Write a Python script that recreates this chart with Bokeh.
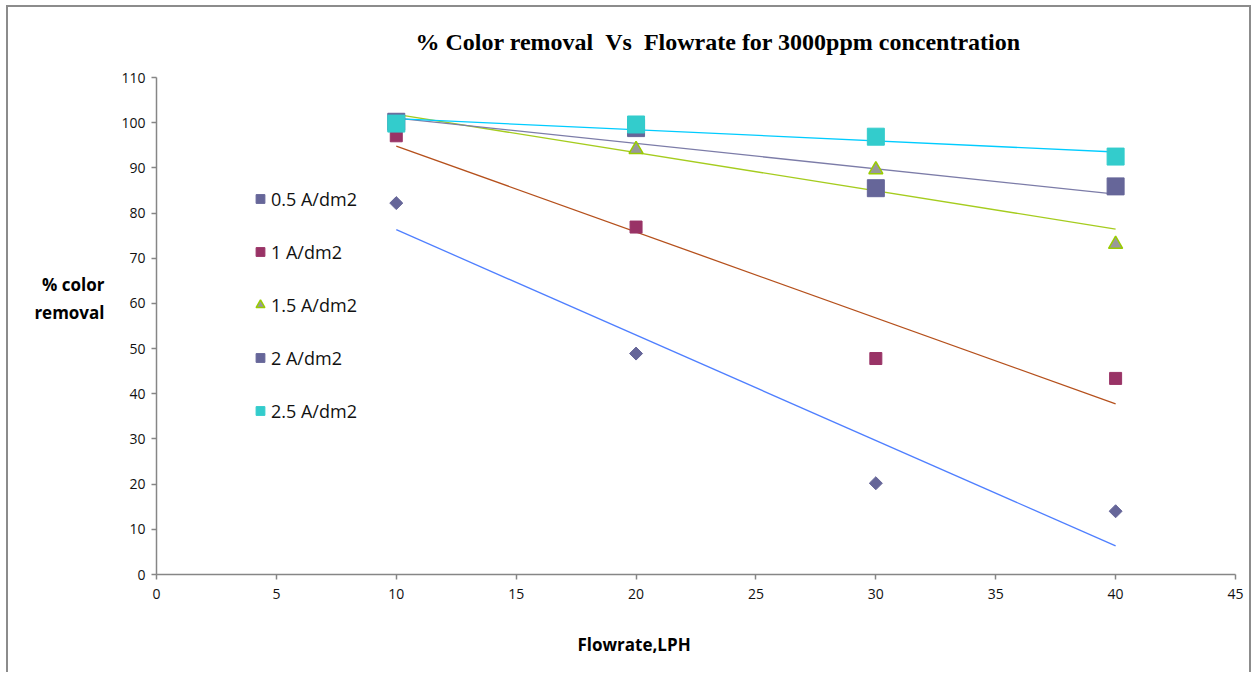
import numpy as np
from bokeh.plotting import figure
from bokeh.models import Range1d, FixedTicker, Legend, LegendItem, Title
from bokeh.embed import file_html
from bokeh.resources import INLINE

# ---- data ----
flowrate = [10, 20, 30, 40]
s05 = [82.2, 48.9, 20.2, 14.0]
s10 = [97.1, 76.9, 47.8, 43.4]
s15 = [99.8, 94.1, 89.6, 73.1]
s20 = [100.2, 98.8, 85.5, 85.9]
s25 = [99.8, 99.6, 96.9, 92.5]
series_names = ["0.5 A/dm2", "1 A/dm2", "1.5 A/dm2", "2 A/dm2", "2.5 A/dm2"]
x_ticks = [0, 5, 10, 15, 20, 25, 30, 35, 40, 45]
y_ticks = [0, 10, 20, 30, 40, 50, 60, 70, 80, 90, 100, 110]
title_text = "% Color removal \u00a0Vs \u00a0Flowrate for 3000ppm concentration"
x_label = "\u00a0\nFlowrate,LPH"
y_label = "% color\nremoval\n\u00a0\n\u00a0"

# page coordinates of the chart box and the plot frame
BL, BT = 8, 7          # inner edge of the grey border (left, top)
BR = 1253              # inner edge of right border
PAGE_H = 674
FL, FR, FT, FB = 156, 1235, 77, 574

W = BR - BL
H = PAGE_H - BT

p = figure(width=W, height=H, output_backend="svg", toolbar_location=None,
           x_range=Range1d(0, 45), y_range=Range1d(0, 110),
           min_border_left=FL - BL, min_border_right=BR - FR,
           min_border_top=FT - BT, min_border_bottom=H - (FB - BT))
p.styles = {"margin-left": "6px", "margin-top": "5px",
            "border-left": "2px solid #8C8C8C",
            "border-top": "2px solid #8C8C8C",
            "border-right": "2px solid #8C8C8C"}
p.outline_line_color = None
p.xgrid.visible = False
p.ygrid.visible = False
p.background_fill_color = "white"
p.border_fill_color = "white"

for ax in (p.xaxis[0], p.yaxis[0]):
    ax.axis_line_color = "#868686"
    ax.axis_line_width = 1.5
    ax.major_tick_line_color = "#868686"
    ax.major_tick_line_width = 1.5
    ax.major_tick_out = 5
    ax.major_tick_in = 0
    ax.minor_tick_line_color = None
    ax.major_label_text_font = "Open Sans"
    ax.major_label_text_font_size = "14px"
    ax.major_label_text_color = "#111111"
p.xaxis[0].ticker = FixedTicker(ticks=x_ticks)
p.yaxis[0].ticker = FixedTicker(ticks=y_ticks)
p.xaxis[0].major_label_standoff = 9
p.yaxis[0].major_label_standoff = 6

yax = p.yaxis[0]
yax.axis_label = y_label
yax.axis_label_orientation = "horizontal"
yax.axis_label_text_font = "Open Sans"
yax.axis_label_text_font_style = "bold"
yax.axis_label_text_font_size = "17px"
yax.axis_label_text_color = "#000000"
yax.axis_label_text_align = "left"
yax.axis_label_standoff = 14

xs = np.array(flowrate, dtype=float)
all_series = [s05, s10, s15, s20, s25]
trend_colors = ["#4F7FFF", "#B5501C", "#A5CC1E", "#7C7CA8", "#00CCFF"]
for ys, c in zip(all_series, trend_colors):
    m, b = np.polyfit(xs, np.array(ys), 1)
    xl = [flowrate[0], flowrate[-1]]
    p.line(xl, [m * xl[0] + b, m * xl[1] + b], line_color=c, line_width=1.3)

r05 = p.scatter(flowrate, s05, marker="square", angle=np.pi / 4, size=9.2,
                fill_color="#666699", line_color="#666699")
r10 = p.scatter(flowrate, s10, marker="square", size=12,
                fill_color="#993366", line_color="#993366")
r15 = p.scatter(flowrate, s15, marker="triangle", size=14,
                fill_color="#999999", line_color="#99CC00", line_width=1.5)
r20 = p.scatter(flowrate, s20, marker="square", size=17,
                fill_color="#666699", line_color="#666699")
r25 = p.scatter(flowrate, s25, marker="square", size=17,
                fill_color="#33CCCC", line_color="#33CCCC")

items = [LegendItem(label=n, renderers=[r]) for n, r in
         zip(series_names, [r05, r10, r15, r20, r25])]
legend = Legend(items=items, location=(93, 151), orientation="vertical",
                background_fill_alpha=0, border_line_color=None,
                padding=0, margin=0, spacing=28,
                glyph_width=22, glyph_height=25, label_height=25,
                label_standoff=0,
                label_text_font="Open Sans", label_text_font_size="18px",
                label_text_color="#111111")
p.add_layout(legend, "center")

p.add_layout(Title(text=title_text, align="left", offset=415 - FL,
                   text_font="Liberation Serif", text_font_style="bold",
                   text_font_size="24px", text_color="#000000",
                   vertical_align="top", standoff=41), "above")
p.add_layout(Title(text=x_label, align="left", offset=577 - FL,
                   text_font="Open Sans", text_font_style="bold",
                   text_font_size="17px", text_color="#000000",
                   vertical_align="top", standoff=16), "below")

open("out.html", "w").write(file_html(p, INLINE))
